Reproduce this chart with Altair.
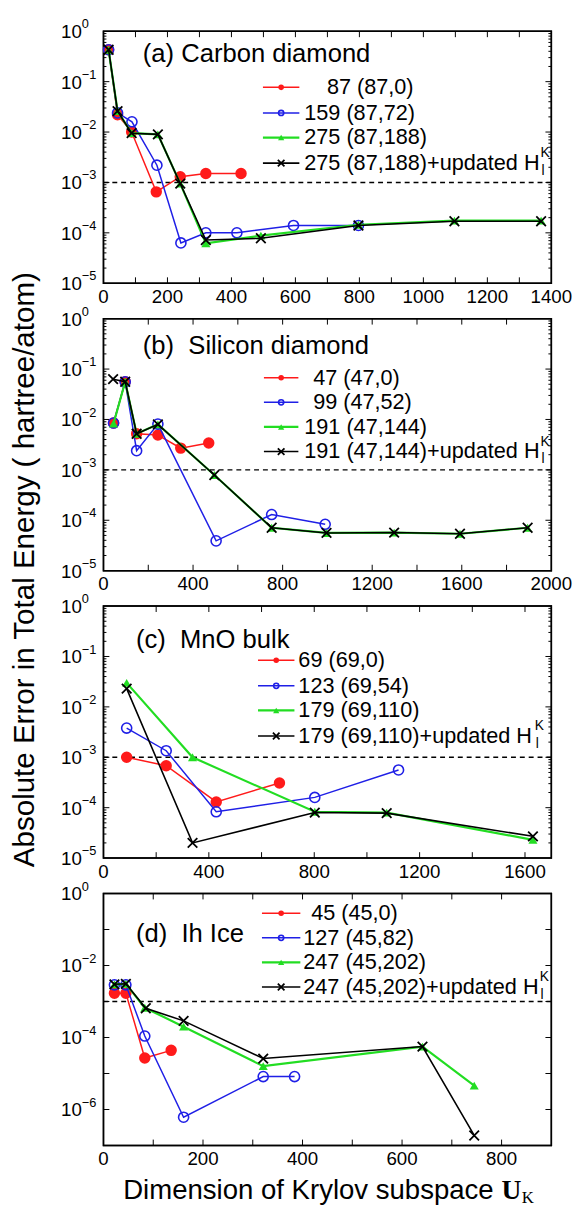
import math
import altair as alt
import pandas as pd

FONT = "Liberation Sans"
SERIF = "Liberation Serif"

# ---------------- data ----------------
# (a) Carbon diamond
A_RED_X = [16, 44, 88, 165, 240, 320, 430]
A_RED_Y = [0.43, 0.022, 0.010, 6.5e-4, 1.3e-3, 1.5e-3, 1.5e-3]
A_BLUE_X = [16, 44, 89, 167, 242, 320, 417, 594, 797]
A_BLUE_Y = [0.43, 0.024, 0.016, 2.2e-3, 6.3e-5, 1.0e-4, 1.0e-4, 1.4e-4, 1.4e-4]
A_GREEN_X = [16, 44, 88, 170, 240, 320, 492, 797, 1097, 1368]
A_GREEN_Y = [0.43, 0.026, 0.0095, 0.009, 9.5e-4, 6.2e-5, 8.8e-5, 1.45e-4, 1.75e-4, 1.75e-4]
A_BLACK_X = [16, 44, 88, 170, 240, 320, 492, 797, 1097, 1368]
A_BLACK_Y = [0.43, 0.026, 0.0095, 0.009, 9.5e-4, 7.2e-5, 7.8e-5, 1.4e-4, 1.7e-4, 1.7e-4]

# (b) Silicon diamond
B_RED_X = [45, 97, 148, 243, 345, 470]
B_RED_Y = [0.0085, 0.056, 0.0052, 0.0049, 0.0027, 0.0034]
B_BLUE_X = [45, 97, 148, 243, 503, 751, 990]
B_BLUE_Y = [0.0085, 0.056, 0.0024, 0.0081, 3.9e-5, 1.3e-4, 8.3e-5]
B_GREEN_X = [45, 97, 148, 243, 495, 751, 996, 1298, 1592, 1894]
B_GREEN_Y = [0.0083, 0.056, 0.0052, 0.008, 7.9e-4, 7.1e-5, 5.6e-5, 5.7e-5, 5.4e-5, 7.1e-5]
B_BLACK_X = [43, 97, 148, 243, 495, 751, 996, 1298, 1592, 1894]
B_BLACK_Y = [0.063, 0.056, 0.0052, 0.008, 7.9e-4, 7.1e-5, 5.6e-5, 5.7e-5, 5.4e-5, 7.1e-5]

# (c) MnO bulk
C_RED_X = [88, 238, 428, 668]
C_RED_Y = [1.0e-3, 6.8e-4, 1.3e-4, 3.1e-4]
C_BLUE_X = [88, 238, 428, 802, 1120]
C_BLUE_Y = [3.8e-3, 1.35e-3, 8.3e-5, 1.6e-4, 5.6e-4]
C_GREEN_X = [88, 338, 802, 1075, 1630]
C_GREEN_Y = [0.030, 1.0e-3, 8.3e-5, 8.0e-5, 2.3e-5]
C_BLACK_X = [88, 338, 802, 1075, 1630]
C_BLACK_Y = [0.023, 2.0e-5, 8.0e-5, 7.8e-5, 2.7e-5]

# (d) Ih Ice
D_RED_X = [22, 45, 83, 136]
D_RED_Y = [1.7e-3, 1.7e-3, 2.7e-5, 4.4e-5]
D_BLUE_X = [22, 45, 83, 161, 321, 384]
D_BLUE_Y = [2.9e-3, 2.9e-3, 1.1e-4, 6.1e-7, 8.2e-6, 8.2e-6]
D_GREEN_X = [22, 45, 83, 161, 321, 641, 745]
D_GREEN_Y = [3.0e-3, 3.1e-3, 6.7e-4, 2.0e-4, 1.6e-5, 5.6e-5, 4.6e-6]
D_BLACK_X = [22, 45, 85, 161, 321, 641, 745]
D_BLACK_Y = [3.0e-3, 3.1e-3, 6.5e-4, 2.9e-4, 2.6e-5, 5.6e-5, 1.9e-7]

# legend labels and titles
A_LEGEND = ["87 (87,0)", "159 (87,72)", "275 (87,188)", "275 (87,188)+updated H"]
B_LEGEND = ["47 (47,0)", "99 (47,52)", "191 (47,144)", "191 (47,144)+updated H"]
C_LEGEND = ["69 (69,0)", "123 (69,54)", "179 (69,110)", "179 (69,110)+updated H"]
D_LEGEND = ["45 (45,0)", "127 (45,82)", "247 (45,202)", "247 (45,202)+updated H"]
TITLES = ["(a) Carbon diamond", "(b)\u00a0 Silicon diamond", "(c)\u00a0 MnO bulk", "(d)\u00a0 Ih Ice"]

# tick labels
A_XLABELS = [0, 200, 400, 600, 800, 1000, 1200, 1400]
B_XLABELS = [0, 400, 800, 1200, 1600, 2000]
C_XLABELS = [0, 400, 800, 1200, 1600]
D_XLABELS = [0, 200, 400, 600, 800]
A_XTICKS = [100, 200, 300, 400, 500, 600, 700, 800, 900, 1000, 1100, 1200, 1300]
B_XTICKS = [200, 400, 600, 800, 1000, 1200, 1400, 1600, 1800]
C_XTICKS = [200, 400, 600, 800, 1000, 1200, 1400, 1600]
D_XTICKS = [100, 200, 300, 400, 500, 600, 700, 800]
YEXP_ABC = [0, -1, -2, -3, -4, -5]
YEXP_D = [0, -2, -4, -6]

Y_TITLE = "Absolute Error in Total Energy ( hartree/atom)"
X_TITLE = "Dimension of Krylov subspace"

# ---------------- style ----------------
W, H = 455, 256
XPATH = "M-1,-1L1,1M-1,1L1,-1"
STY = {
    "red": dict(color="#ff1a1a", shape="circle", filled=True, size=135, leg=32, sw=1, lw=1.5),
    "blue": dict(color="#1f1fe6", shape="circle", filled=False, size=105, leg=28, sw=1.6, lw=1.5),
    "green": dict(color="#22dd22", shape="triangle-up", filled=True, size=85, leg=40, sw=1, lw=2.2),
    "black": dict(color="#000000", shape=XPATH, filled=False, size=95, leg=45, sw=1.8, lw=1.6),
}
ORDER = ["red", "blue", "green", "black"]

CW = {" ": 278, "\u00a0": 278, "(": 333, ")": 333, "+": 584, ",": 278, "/": 278,
      "a": 556, "b": 556, "c": 500, "d": 556, "e": 556, "g": 556, "h": 556, "i": 222,
      "l": 222, "m": 833, "n": 556, "o": 556, "p": 556, "r": 333, "s": 500, "t": 278,
      "u": 556, "v": 500, "y": 500, "f": 278, "H": 722, "K": 667, "D": 722}


def twidth(s, size):
    return sum(CW.get(ch, 556) for ch in s) * size / 1000.0


ONE = pd.DataFrame({"k": [0]})


def txt(x, y, s, size, align="left", font=FONT, weight="normal", dy=0, angle=0):
    return alt.Chart(ONE).mark_text(
        align=align, baseline="middle", fontSize=size, font=font, fontWeight=weight,
        dy=dy, angle=angle, color="black"
    ).encode(x=alt.value(x), y=alt.value(y), text=alt.value(s))


def panel(series, xmax, xlabels, xticks, ymin, yexps, minor, title, title_xy,
          legend, rows, line_x, text_x, pads, extra):
    xs = alt.Scale(domain=[0, xmax], nice=False, zero=False)
    ys = alt.Scale(type="log", domain=[ymin, 1], nice=False)
    L = []
    # frame
    L.append(alt.Chart(ONE).mark_rect(fill=None, stroke="black", strokeWidth=1.5).encode(
        x=alt.value(0), x2=alt.value(W), y=alt.value(0), y2=alt.value(H)))
    tx = pd.DataFrame({"v": xticks})
    L.append(alt.Chart(tx).mark_rule(color="black", strokeWidth=1).encode(
        x=alt.X("v:Q", scale=xs, axis=None), y=alt.value(H), y2=alt.value(H - 6)))
    L.append(alt.Chart(tx).mark_rule(color="black", strokeWidth=1).encode(
        x=alt.X("v:Q", scale=xs, axis=None), y=alt.value(0), y2=alt.value(6)))
    # x tick labels
    xl = pd.DataFrame({"v": xlabels, "t": [str(v) for v in xlabels]})
    L.append(alt.Chart(xl).mark_text(align="center", baseline="middle", fontSize=19,
                                     font=FONT, color="black").encode(
        x=alt.X("v:Q", scale=xs, axis=None), y=alt.value(H + 14), text="t:N"))
    lo = int(round(math.log10(ymin)))
    major = [10.0 ** e for e in range(lo + 1, 0)]
    ymaj = pd.DataFrame({"v": major})
    for x1, x2 in [(0, 6), (W - 6, W)]:
        L.append(alt.Chart(ymaj).mark_rule(color="black", strokeWidth=1).encode(
            x=alt.value(x1), x2=alt.value(x2), y=alt.Y("v:Q", scale=ys, axis=None)))
    if minor:
        mn = [k * 10.0 ** e for e in range(lo, 0) for k in range(2, 10)]
        ymin_df = pd.DataFrame({"v": mn})
        for x1, x2 in [(0, 3), (W - 3, W)]:
            L.append(alt.Chart(ymin_df).mark_rule(color="black", strokeWidth=1).encode(
                x=alt.value(x1), x2=alt.value(x2), y=alt.Y("v:Q", scale=ys, axis=None)))
    # dashed 1e-3 line
    L.append(alt.Chart(pd.DataFrame({"v": [1e-3]})).mark_rule(
        color="black", strokeWidth=1.5, strokeDash=[5, 4]).encode(
        y=alt.Y("v:Q", scale=ys, axis=None)))
    # y tick labels 10^e
    lab = pd.DataFrame({"v": [10.0 ** e for e in yexps],
                        "b": ["10"] * len(yexps),
                        "e": [str(e).replace("-", "\u2212") for e in yexps]})
    L.append(alt.Chart(lab).mark_text(align="right", baseline="middle", fontSize=19,
                                      font=FONT, dy=1, color="black").encode(
        x=alt.value(-22), y=alt.Y("v:Q", scale=ys, axis=None), text="b:N"))
    L.append(alt.Chart(lab).mark_text(align="left", baseline="middle", fontSize=13,
                                      font=FONT, dy=-7, color="black").encode(
        x=alt.value(-22), y=alt.Y("v:Q", scale=ys, axis=None), text="e:N"))
    # data series
    for key, (sx, sy) in zip(ORDER, series):
        st = STY[key]
        df = pd.DataFrame({"x": sx, "y": sy, "i": list(range(len(sx)))})
        base = alt.Chart(df).encode(x=alt.X("x:Q", scale=xs, axis=None),
                                    y=alt.Y("y:Q", scale=ys, axis=None))
        L.append(base.mark_line(color=st["color"], strokeWidth=st["lw"]).encode(order="i:Q"))
        L.append(base.mark_point(shape=st["shape"], filled=st["filled"], size=st["size"],
                                 color=st["color"], strokeWidth=st["sw"], opacity=1))
    # legend
    for key, label, ry, pad in zip(ORDER, legend, rows, pads):
        st = STY[key]
        L.append(alt.Chart(ONE).mark_rule(color=st["color"], strokeWidth=st["lw"]).encode(
            x=alt.value(line_x[0]), x2=alt.value(line_x[1]), y=alt.value(ry)))
        L.append(alt.Chart(ONE).mark_point(shape=st["shape"], filled=st["filled"],
                                           size=st["leg"], color=st["color"],
                                           strokeWidth=st["sw"], opacity=1).encode(
            x=alt.value((line_x[0] + line_x[1]) / 2), y=alt.value(ry)))
        L.append(txt(text_x + pad, ry, label, 22))
        if label.endswith("H"):
            sx0 = text_x + pad + twidth(label, 22) + 1
            L.append(txt(sx0, ry, "K", 14, dy=-10))
            L.append(txt(sx0 + 1, ry, "l", 14, dy=8))
    # panel title
    L.append(txt(title_xy[0], title_xy[1], title, 26))
    L.extend(extra)
    return alt.layer(*L).properties(width=W, height=H)


ytitle = [txt(-80, 255, Y_TITLE, 30, align="center", angle=270)]
xw = twidth(X_TITLE + " ", 28)
xtitle = [txt(20, 302, X_TITLE, 28),
          txt(20 + xw, 302, "U", 28, font=SERIF, weight="bold"),
          txt(20 + xw + 20.5, 302, "K", 17, font=SERIF, dy=7)]

pa = panel([(A_RED_X, A_RED_Y), (A_BLUE_X, A_BLUE_Y), (A_GREEN_X, A_GREEN_Y), (A_BLACK_X, A_BLACK_Y)],
           1400, A_XLABELS, A_XTICKS, 1e-5, YEXP_ABC, True, TITLES[0], (40, 23),
           A_LEGEND, [57, 83, 108, 134], (162, 199), 204, [23, 0, 0, 0], [])
pb = panel([(B_RED_X, B_RED_Y), (B_BLUE_X, B_BLUE_Y), (B_GREEN_X, B_GREEN_Y), (B_BLACK_X, B_BLACK_Y)],
           2000, B_XLABELS, B_XTICKS, 1e-5, YEXP_ABC, True, TITLES[1], (40, 28),
           B_LEGEND, [60, 85, 110, 135], (163, 198), 204, [9, 9, 0, 0], ytitle)
pc = panel([(C_RED_X, C_RED_Y), (C_BLUE_X, C_BLUE_Y), (C_GREEN_X, C_GREEN_Y), (C_BLACK_X, C_BLACK_Y)],
           1700, C_XLABELS, C_XTICKS, 1e-5, YEXP_ABC, True, TITLES[2], (33, 35),
           C_LEGEND, [55, 81, 106, 132], (157, 194), 198, [0, 0, 0, 0], [])
pd_ = panel([(D_RED_X, D_RED_Y), (D_BLUE_X, D_BLUE_Y), (D_GREEN_X, D_GREEN_Y), (D_BLACK_X, D_BLACK_Y)],
            900, D_XLABELS, D_XTICKS, 1e-7, YEXP_D, False, TITLES[3], (33, 41),
            D_LEGEND, [20, 45, 70, 95], (161, 200), 203, [8, 0, 0, 0], xtitle)

chart = alt.vconcat(pa, pb, pc, pd_, spacing=36, bounds="flush").properties(
    padding={"left": 1, "top": 0, "right": 0, "bottom": 0}
).configure_view(stroke="black", strokeWidth=1.5)

chart.save("out.html", embed_options={"renderer": "svg", "actions": False})
